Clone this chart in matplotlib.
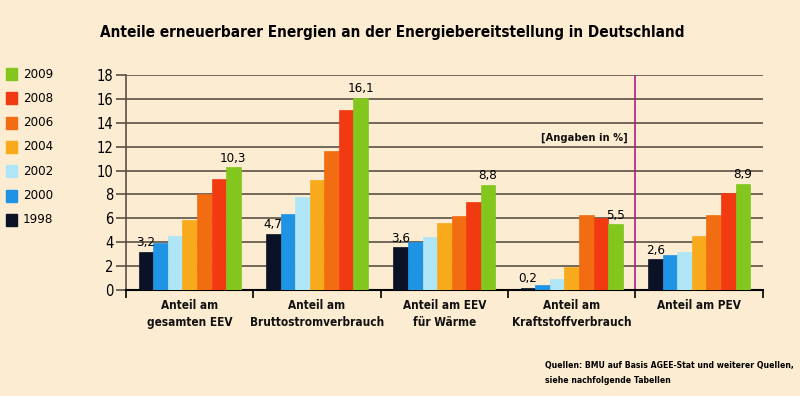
import numpy as np
import matplotlib
matplotlib.use("Agg")
import matplotlib.pyplot as plt

# Daten (Anteile in %)
years = ["1998", "2000", "2002", "2004", "2006", "2008", "2009"]
categories = [
    "Anteil am\ngesamten EEV",
    "Anteil am\nBruttostromverbrauch",
    "Anteil am EEV\nfür Wärme",
    "Anteil am\nKraftstoffverbrauch",
    "Anteil am PEV",
]
v1998 = [3.2, 4.7, 3.6, 0.2, 2.6]
v2000 = [3.9, 6.4, 4.0, 0.4, 2.9]
v2002 = [4.5, 7.8, 4.4, 0.9, 3.2]
v2004 = [5.9, 9.2, 5.6, 1.9, 4.5]
v2006 = [8.0, 11.6, 6.2, 6.3, 6.3]
v2008 = [9.3, 15.1, 7.4, 6.0, 8.1]
v2009 = [10.3, 16.1, 8.8, 5.5, 8.9]
series = [v1998, v2000, v2002, v2004, v2006, v2008, v2009]
colors = ["#0b1226", "#1f93e4", "#aee6f8", "#f9aa1c", "#f26d12", "#f23a12", "#82c61e"]

bg = "#fcecd1"
grid_c = "#5a5044"

plt.rcParams["font.family"] = "DejaVu Sans"
plt.rcParams["font.stretch"] = "condensed"

fig = plt.figure(figsize=(8, 3.96), dpi=100, facecolor=bg)
ax = fig.add_axes([0.1575, 0.2677, 0.796, 0.5429], facecolor=bg)

x = np.arange(len(categories))
w = 0.8 / len(years)
for i, (vals, c) in enumerate(zip(series, colors)):
    off = (i - 3) * w
    ax.bar(x + off, vals, width=w, color=c, edgecolor=c, linewidth=0.5, zorder=3)

# Werte über 1998 und 2009
for j in x:
    ax.text(j - 3 * w, v1998[j] + 0.2, f"{v1998[j]:.1f}".replace(".", ","),
            ha="center", va="bottom", fontsize=9.5, zorder=4)
    ax.text(j + 3 * w, v2009[j] + 0.2, f"{v2009[j]:.1f}".replace(".", ","),
            ha="center", va="bottom", fontsize=9.5, zorder=4)

ax.set_xlim(-0.5, len(categories) - 0.5)
ax.set_ylim(0, 18)
ax.set_yticks(np.arange(0, 19, 2))
ax.tick_params(axis="y", length=7, width=1.2, color=grid_c, labelsize=10.5, pad=2)
ax.yaxis.grid(True, color=grid_c, linewidth=1.2, zorder=1)

ax.set_xticks(np.arange(-0.5, len(categories), 1.0))
ax.set_xticklabels([])
ax.tick_params(axis="x", length=6, width=1.2, color="black")
for j, lab in enumerate(categories):
    ax.text(j, -0.75, lab, ha="center", va="top", fontsize=8.5, fontweight="bold",
            linespacing=1.45, color="#111111")

for s in ["top", "right"]:
    ax.spines[s].set_visible(False)
ax.spines["left"].set_color(grid_c)
ax.spines["left"].set_linewidth(1.2)
ax.spines["bottom"].set_color("black")
ax.spines["bottom"].set_linewidth(1.5)

ax.axvline(3.5, color="#b01e86", linewidth=1.2, zorder=2)

ax.text(3.44, 12.7, "[Angaben in %]", ha="right", va="center", fontsize=8,
        fontweight="bold", color="#111111")

# Legende links
for k, (yr, c) in enumerate(zip(years[::-1], colors[::-1])):
    yy = 1 - (74 + k * 24.3) / 396
    fig.patches.append(plt.Rectangle((6 / 800, yy - 6 / 396), 11 / 800, 12 / 396,
                                     transform=fig.transFigure, color=c))
    fig.text(23 / 800, yy, yr, ha="left", va="center", fontsize=9.5)

fig.text(100 / 800, 1 - 32 / 396,
         "Anteile erneuerbarer Energien an der Energiebereitstellung in Deutschland",
         ha="left", va="center", fontsize=11, fontweight="bold")

fig.text(545 / 800, 1 - 373 / 396,
         "Quellen: BMU auf Basis AGEE-Stat und weiterer Quellen,\nsiehe nachfolgende Tabellen",
         ha="left", va="center", fontsize=6.2, fontweight="bold", linespacing=1.85)

fig.savefig("out.png", dpi=100, facecolor=bg)
